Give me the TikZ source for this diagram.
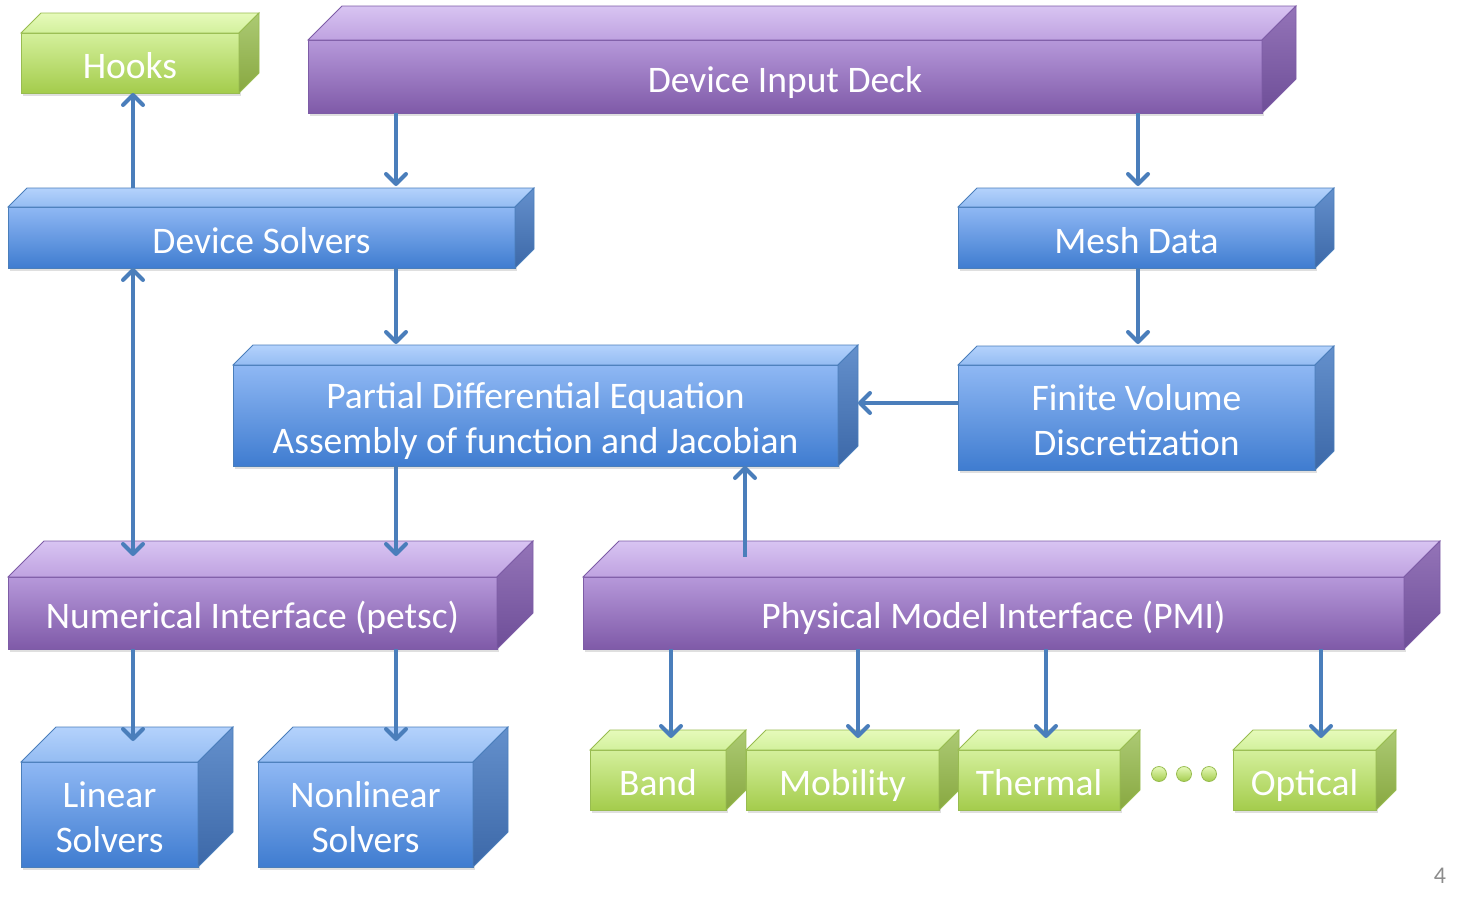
\documentclass[tikz,border=0pt]{standalone}
\usepackage{fontspec}
\setmainfont{Carlito}
\usetikzlibrary{arrows.meta,calc,shadows}
\definecolor{arrcol}{HTML}{4A7EBB}
\definecolor{pLine}{HTML}{7D5CA6}
\definecolor{pFrontT}{HTML}{B698DA}
\definecolor{pFrontB}{HTML}{7F5AA8}
\definecolor{pTopT}{HTML}{D8C4F2}
\definecolor{pTopB}{HTML}{BFA2E0}
\definecolor{pSideT}{HTML}{9474B8}
\definecolor{pSideB}{HTML}{6E4E98}
\definecolor{bLine}{HTML}{4A7EBB}
\definecolor{bFrontT}{HTML}{8FB8F4}
\definecolor{bFrontB}{HTML}{3F7CD0}
\definecolor{bTopT}{HTML}{B4D2FC}
\definecolor{bTopB}{HTML}{94BCF2}
\definecolor{bSideT}{HTML}{6490CC}
\definecolor{bSideB}{HTML}{3C68A8}
\definecolor{gLine}{HTML}{98BC50}
\definecolor{gFrontT}{HTML}{D4F09C}
\definecolor{gFrontB}{HTML}{A4CC4C}
\definecolor{gTopT}{HTML}{E6FABA}
\definecolor{gTopB}{HTML}{D2F09C}
\definecolor{gSideT}{HTML}{ACCA74}
\definecolor{gSideB}{HTML}{88A840}
\definecolor{pgnum}{HTML}{8C8C8C}
\tikzset{
  boxbase/.style={inner sep=0pt, outer sep=0pt, line width=0.8pt, text=white,
    align=center, font=\fontsize{37.5}{45}\selectfont, text height=31pt, text depth=0pt,
    drop shadow={opacity=0.25, shadow xshift=2pt, shadow yshift=-3pt}},
  twolines/.style={text height=76pt},
  oneline/.style={},
  boxP/.style={boxbase, draw=pLine, top color=pFrontT, bottom color=pFrontB},
  boxPtop/.style={draw=pLine, line width=0.8pt, top color=pTopT, bottom color=pTopB},
  boxPside/.style={draw=pLine, line width=0.8pt, top color=pSideT, bottom color=pSideB},
  boxB/.style={boxbase, draw=bLine, top color=bFrontT, bottom color=bFrontB},
  boxBtop/.style={draw=bLine, line width=0.8pt, top color=bTopT, bottom color=bTopB},
  boxBside/.style={draw=bLine, line width=0.8pt, top color=bSideT, bottom color=bSideB},
  boxG/.style={boxbase, draw=gLine, top color=gFrontT, bottom color=gFrontB},
  boxGtop/.style={draw=gLine, line width=0.8pt, top color=gTopT, bottom color=gTopB},
  boxGside/.style={draw=gLine, line width=0.8pt, top color=gSideT, bottom color=gSideB},
  arr/.style={draw=arrcol, line width=4pt, -{Straight Barb[length=10pt,width=20pt,round]}},
  darr/.style={draw=arrcol, line width=4pt, {Straight Barb[length=10pt,width=20pt,round]}-{Straight Barb[length=10pt,width=20pt,round]}},
  dotG/.style={circle, inner sep=0pt, minimum size=15pt, draw=gLine, line width=0.8pt, top color=gTopT, bottom color=gFrontB}
}
\newcommand\cub[9]{%
  \node[#7, #9, minimum width={(#4-#2)*1pt}, minimum height={(#5-#3)*1pt}] (#1) at ({(#2+#4)/2},{(#3+#5)/2}) {#8};
  \path[#7top] (#1.north west) -- ++(#6pt,#6pt) -- ([shift={(#6pt,#6pt)}]#1.north east) -- (#1.north east) -- cycle;
  \path[#7side] (#1.north east) -- ++(#6pt,#6pt) -- ([shift={(#6pt,#6pt)}]#1.south east) -- (#1.south east) -- cycle;
}
\begin{document}
\begin{tikzpicture}[x=1pt,y=-1pt]
\useasboundingbox (0,0) rectangle (1462,903);
% boxes
\cub{hooks}{21}{33}{239}{93}{20}{boxG}{Hooks}{oneline}
\cub{did}{308}{40}{1262}{113}{34}{boxP}{Device Input Deck}{oneline}
\cub{ds}{8}{207}{515}{268}{19}{boxB}{Device Solvers}{oneline}
\cub{mesh}{958}{207}{1315}{268}{19}{boxB}{Mesh Data}{oneline}
\cub{pde}{233}{365}{838}{466}{20}{boxB}{Partial Differential Equation\\Assembly of function and Jacobian}{twolines}
\cub{fv}{958}{365}{1315}{470}{19}{boxB}{Finite Volume\\Discretization}{twolines}
\cub{ni}{8}{577}{497}{649}{36}{boxP}{Numerical Interface (petsc)}{oneline}
\cub{pmi}{583}{577}{1404}{649}{36}{boxP}{Physical Model Interface (PMI)}{oneline}
\cub{lin}{21}{762}{198}{867}{35}{boxB}{Linear\\Solvers}{twolines}
\cub{nonlin}{258}{762}{473}{867}{35}{boxB}{Nonlinear\\Solvers}{twolines}
\cub{band}{590}{750}{726}{810}{20}{boxG}{Band}{oneline}
\cub{mob}{746}{750}{939}{810}{20}{boxG}{Mobility}{oneline}
\cub{therm}{958}{750}{1120}{810}{20}{boxG}{Thermal}{oneline}
\cub{opt}{1233}{750}{1376}{810}{20}{boxG}{Optical}{oneline}
\node[dotG] (d1) at (1159,774) {};
\node[dotG] (d2) at (1184,774) {};
\node[dotG] (d3) at (1209,774) {};
\node[text=pgnum, font=\fontsize{24}{28}\selectfont] (pg) at (1440,876) {4};
% x/y reference coordinates
\coordinate (x133) at (133,0);
\coordinate (x396) at (396,0);
\coordinate (x1138) at (1138,0);
\coordinate (x745) at (745,0);
\coordinate (x671) at (671,0);
\coordinate (x858) at (858,0);
\coordinate (x1046) at (1046,0);
\coordinate (x1321) at (1321,0);
\coordinate (y403) at (0,403);
% arrows
\draw[arr] ([yshift=19pt]ds.north -| x133) -- (hooks.south -| x133);
\draw[arr] (did.south -| x396) -- ([yshift=21pt]ds.north -| x396);
\draw[arr] (did.south -| x1138) -- ([yshift=21pt]mesh.north -| x1138);
\draw[arr] (ds.south -| x396) -- ([yshift=21pt]pde.north -| x396);
\draw[arr] (mesh.south -| x1138) -- ([yshift=21pt]fv.north -| x1138);
\draw[arr] (fv.west |- y403) -- ([xshift=20pt]pde.east |- y403);
\draw[darr] (ds.south -| x133) -- ([yshift=21pt]ni.north -| x133);
\draw[arr] (pde.south -| x396) -- ([yshift=21pt]ni.north -| x396);
\draw[arr] ([yshift=20pt]pmi.north -| x745) -- (pde.south -| x745);
\draw[arr] (ni.south -| x133) -- ([yshift=21pt]lin.north -| x133);
\draw[arr] (ni.south -| x396) -- ([yshift=21pt]nonlin.north -| x396);
\draw[arr] (pmi.south -| x671) -- ([yshift=12pt]band.north -| x671);
\draw[arr] (pmi.south -| x858) -- ([yshift=12pt]mob.north -| x858);
\draw[arr] (pmi.south -| x1046) -- ([yshift=12pt]therm.north -| x1046);
\draw[arr] (pmi.south -| x1321) -- ([yshift=12pt]opt.north -| x1321);
\end{tikzpicture}
\end{document}
